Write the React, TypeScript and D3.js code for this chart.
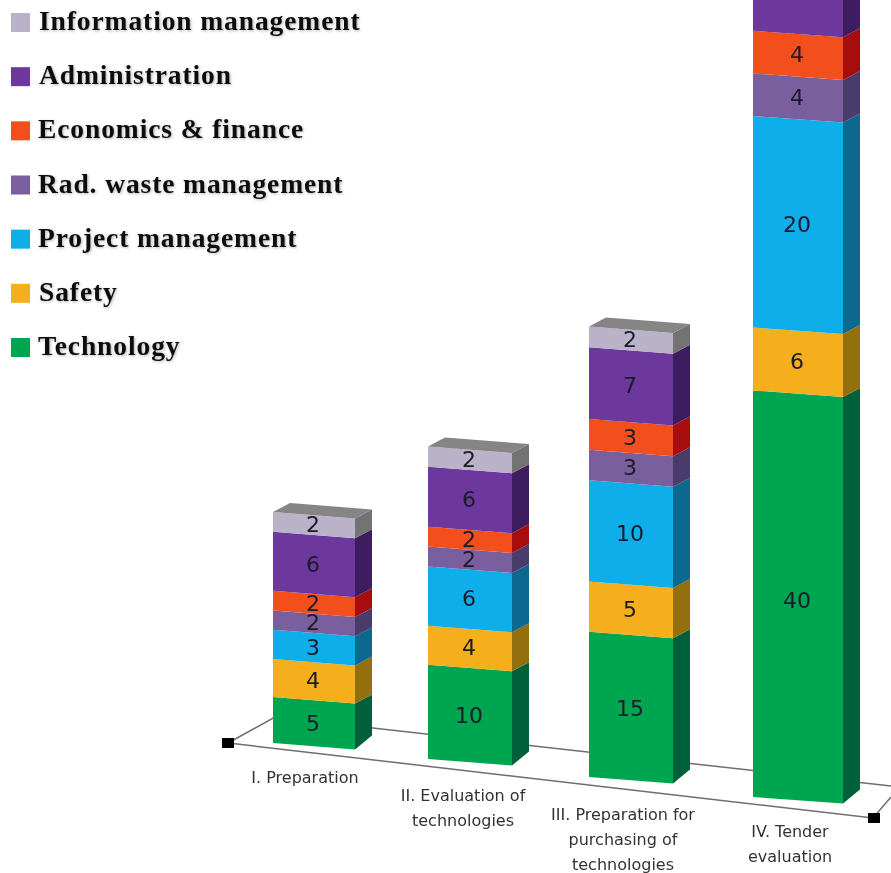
import React from "react";
import * as d3 from "d3";

const categories = [
  ["I. Preparation"],
  ["II. Evaluation of", "technologies"],
  ["III. Preparation for", "purchasing of", "technologies"],
  ["IV. Tender", "evaluation"],
];
const seriesNames = ["Technology", "Safety", "Project management", "Rad. waste management", "Economics & finance", "Administration", "Information management"];
const technology = [5, 10, 15, 40];
const safety = [4, 4, 5, 6];
const projectManagement = [3, 6, 10, 20];
const radWaste = [2, 2, 3, 4];
const economics = [2, 2, 3, 4];
const administration = [6, 6, 7, 8];
const information = [2, 2, 2, 2];
const frontColors = ["#02a650", "#f5ae1c", "#0eaeea", "#7a5f9e", "#f2501f", "#6d379e", "#b9b2c9"];
const sideColors = ["#00613a", "#93700f", "#07688f", "#4a3a6a", "#a80e10", "#3d1e60", "#737373"];
const topColor = "#858585";

const seriesValues = [technology, safety, projectManagement, radWaste, economics, administration, information];
const rows = categories.map((_, i) => {
  const r: Record<string, number> = {};
  seriesNames.forEach((n, s) => (r[n] = seriesValues[s][i]));
  return r;
});
const stacked = d3.stack<Record<string, number>>().keys(seriesNames)(rows);

// Perspective: the four columns grow toward the viewer and stretch slightly with height
const idx = [0, 1, 2, 3];
const xLeft = d3.scaleLinear().domain(idx).range([273, 428, 589, 753]);
const xRight = d3.scaleLinear().domain(idx).range([355, 512, 673, 843]);
const yBase = d3.scaleLinear().domain(idx).range([743, 759, 777, 797]);
const unit = d3.scaleLinear().domain(idx).range([8.75, 8.8, 8.93, 9.1]);
const yScale = (c: number) => {
  const h = d3.scalePow().exponent(1.03).domain([0, 1]).range([0, unit(c)]);
  return (v: number) => yBase(c) - h(v);
};

const SLOPE = 6.5, DX = 17, DY_BASE = 14, DY = 9;
const pts = (a: number[][]) => a.map((p) => p.join(",")).join(" ");

const floorBack = d3.line()([[228, 743], [275, 717], [891, 786]]) as string;
const floorFront = d3.line()([[228, 743], [873, 818], [891, 797]]) as string;

const legendY = d3.scaleLinear().domain([0, 6]).range([22, 347]);
const labelY = d3.scaleLinear().domain(idx).range([783, 801, 820, 837]);
const labelX = d3.scaleLinear().domain(idx).range([305, 463, 623, 790]);

export default function App() {
  return (
    <svg width={891} height={873} style={{ position: "absolute", left: 0, top: 0, display: "block", background: "#fff" }}>
      <defs>
        <filter id="soft" x="0" y="0" width="100%" height="100%">
          <feGaussianBlur stdDeviation="0.7" />
        </filter>
        <filter id="shadow" x="-5%" y="-30%" width="110%" height="160%">
          <feGaussianBlur in="SourceAlpha" stdDeviation="1.4" result="b" />
          <feOffset in="b" dx="1" dy="1" result="o" />
          <feComponentTransfer in="o" result="o2"><feFuncA type="linear" slope="0.3" /></feComponentTransfer>
          <feGaussianBlur in="SourceGraphic" stdDeviation="0.5" result="s" />
          <feMerge><feMergeNode in="o2" /><feMergeNode in="s" /></feMerge>
        </filter>
      </defs>
      <g filter="url(#soft)">
        <path d={floorBack} fill="none" stroke="#6e6e6e" strokeWidth={1.5} />
        <path d={floorFront} fill="none" stroke="#6e6e6e" strokeWidth={1.5} />
        <rect x={222} y={738} width={12} height={10} fill="#000" />
        <rect x={868} y={813} width={12} height={10} fill="#000" />
        {idx.map((c) => {
          const y = yScale(c);
          const xl = xLeft(c), xr = xRight(c);
          const yt = y(stacked[stacked.length - 1][c][1]);
          return (
            <g key={c}>
              {stacked.map((s, k) => {
                const yb = y(s[c][0]), yu = y(s[c][1]);
                const dyb = k === 0 ? DY_BASE : DY;
                return (
                  <g key={k}>
                    <polygon points={pts([[xr, yb + SLOPE], [xr + DX, yb + SLOPE - dyb], [xr + DX, yu + SLOPE - DY], [xr, yu + SLOPE]])} fill={sideColors[k]} />
                    <polygon points={pts([[xl, yb], [xr, yb + SLOPE], [xr, yu + SLOPE], [xl, yu]])} fill={frontColors[k]} />
                  </g>
                );
              })}
              <polygon points={pts([[xl, yt], [xr, yt + SLOPE], [xr + DX, yt + SLOPE - DY], [xl + DX, yt - DY]])} fill={topColor} />
            </g>
          );
        })}
        {idx.map((c) =>
          stacked.map((s, k) => {
            const y = yScale(c);
            const cx = (xLeft(c) + xRight(c)) / 2;
            return (
              <text key={`${c}-${k}`} x={cx - 1} y={y((s[c][0] + s[c][1]) / 2) + SLOPE / 2 + 7} textAnchor="middle"
                fontFamily="'DejaVu Sans'" fontSize={22} fill="#1a1a2a">
                {s[c].data[seriesNames[k]]}
              </text>
            );
          })
        )}
        {categories.map((lines, c) =>
          lines.map((t, j) => (
            <text key={t + c} x={labelX(c)} y={labelY(c) + j * 25} textAnchor="middle"
              fontFamily="'DejaVu Sans'" fontSize={16} fill="#333">
              {t}
            </text>
          ))
        )}
        {seriesNames.map((n, k) => (
          <rect key={n} x={11} y={legendY(6 - k) - 9} width={19} height={19} fill={frontColors[k]} />
        ))}
      </g>
      <g filter="url(#shadow)">
        {seriesNames.map((n, k) => (
          <text key={n} x={k === 1 || k === 5 || k === 6 ? 39 : 38} y={legendY(6 - k) + 8} fontFamily="'Liberation Serif'" fontWeight="bold" fontSize={27.5} letterSpacing={0.9} fill="#111">
            {n}
          </text>
        ))}
      </g>
    </svg>
  );
}
